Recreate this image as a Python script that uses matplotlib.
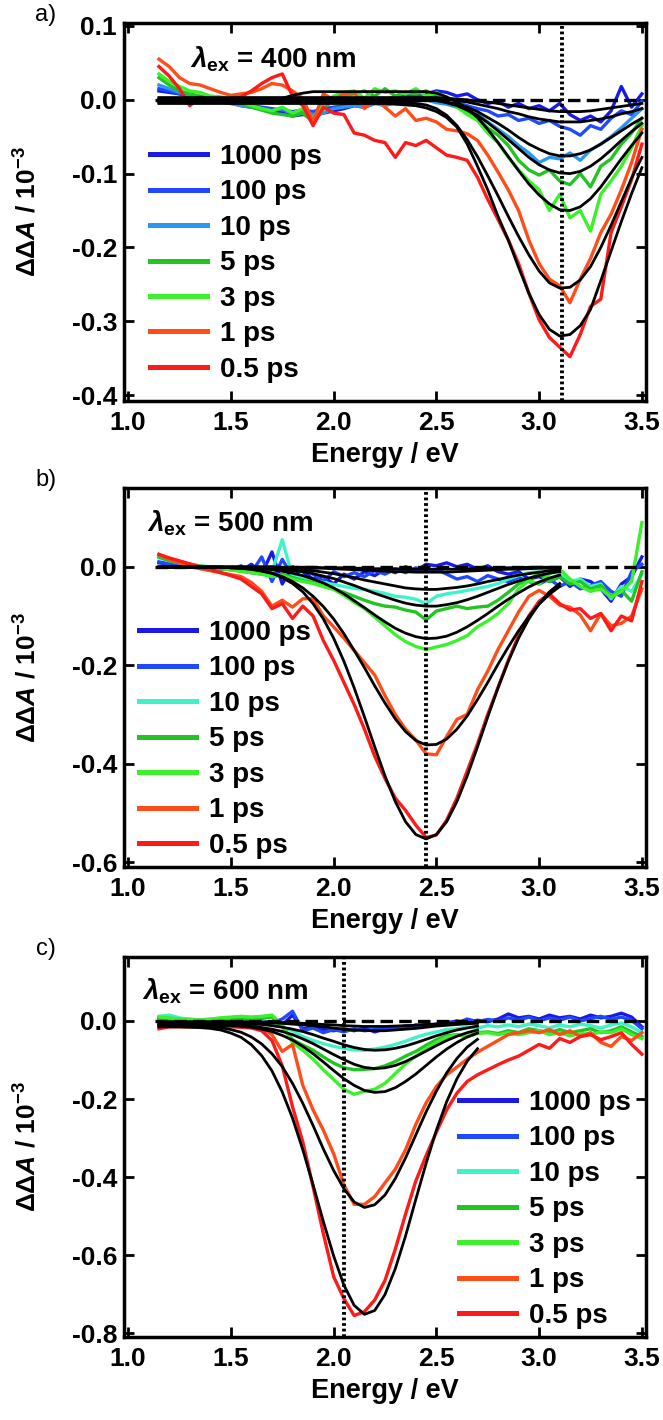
import matplotlib
matplotlib.use("Agg")
import matplotlib.pyplot as plt
import matplotlib.ticker as ticker

plt.rcParams["font.family"] = ["Liberation Sans", "DejaVu Sans"]
plt.rcParams["font.weight"] = "bold"
plt.rcParams["axes.unicode_minus"] = False
plt.rcParams["mathtext.fontset"] = "custom"
plt.rcParams["mathtext.rm"] = "Liberation Sans:bold"
plt.rcParams["mathtext.it"] = "Liberation Sans:italic:bold"
plt.rcParams["mathtext.bf"] = "Liberation Sans:bold"
plt.rcParams["lines.scale_dashes"] = False

# ── Data (ΔΔA in 10^-3) ───────────────────────────────────────────────────────
energy = [1.15, 1.20, 1.25, 1.30, 1.35, 1.40, 1.45, 1.50,
          1.55, 1.60, 1.65, 1.70, 1.75, 1.80, 1.85, 1.90,
          1.95, 2.00, 2.05, 2.10, 2.15, 2.20, 2.25, 2.30,
          2.35, 2.40, 2.45, 2.50, 2.55, 2.60, 2.65, 2.70,
          2.75, 2.80, 2.85, 2.90, 2.95, 3.00, 3.05, 3.10,
          3.15, 3.20, 3.25, 3.30, 3.35, 3.40, 3.45, 3.50]

delays = ["1000 ps", "100 ps", "10 ps", "5 ps", "3 ps", "1 ps", "0.5 ps"]
exc_nm = [400, 500, 600]
exc_ev = [3.11, 2.45, 2.05]

# panel a) 400 nm excitation
a_1000ps = [0.012, 0.010, 0.008, 0.005, 0.003, 0.000, -0.002, -0.004,
            -0.008, -0.010, -0.012, -0.015, -0.018, -0.022, -0.020, -0.022,
            -0.018, -0.015, -0.012, -0.008, -0.010, -0.005, -0.004, 0.000,
            0.002, 0.005, 0.008, 0.012, 0.010, 0.005, 0.008, 0.000,
            -0.005, -0.002, -0.010, -0.005, -0.012, -0.008, -0.015, -0.005,
            -0.020, -0.028, -0.022, -0.030, -0.015, 0.018, -0.010, 0.008]
a_100ps = [0.015, 0.012, 0.008, 0.004, 0.002, 0.000, -0.003, -0.005,
           -0.006, -0.008, -0.010, -0.012, -0.014, -0.016, -0.014, -0.016,
           -0.012, -0.010, -0.008, -0.006, -0.005, -0.003, 0.000, 0.004,
           0.006, 0.008, 0.004, 0.008, 0.002, -0.004, -0.008, -0.012,
           -0.015, -0.022, -0.020, -0.028, -0.025, -0.032, -0.028, -0.036,
           -0.040, -0.048, -0.035, -0.040, -0.025, -0.015, -0.020, -0.002]
a_10ps = [0.020, 0.015, 0.010, 0.005, 0.002, 0.000, -0.003, -0.005,
          -0.008, -0.010, -0.012, -0.015, -0.012, -0.018, -0.015, -0.020,
          -0.018, -0.012, -0.010, -0.008, -0.010, -0.005, -0.008, -0.004,
          -0.006, -0.002, 0.000, -0.004, -0.006, -0.010, -0.015, -0.020,
          -0.030, -0.040, -0.050, -0.062, -0.072, -0.085, -0.078, -0.080,
          -0.072, -0.082, -0.068, -0.060, -0.050, -0.038, -0.025, -0.012]
a_5ps = [0.030, 0.020, 0.012, 0.008, 0.005, 0.004, 0.002, -0.002,
         -0.005, -0.010, -0.014, -0.018, -0.020, -0.022, -0.018, -0.030,
         -0.012, 0.000, 0.005, 0.008, 0.012, 0.005, 0.015, 0.005,
         0.010, 0.008, 0.012, 0.005, 0.000, -0.008, -0.015, -0.025,
         -0.038, -0.048, -0.062, -0.082, -0.095, -0.102, -0.095, -0.110,
         -0.115, -0.100, -0.118, -0.090, -0.080, -0.060, -0.045, -0.025]
a_3ps = [0.035, 0.025, 0.018, 0.012, 0.010, 0.005, 0.004, 0.000,
         -0.003, -0.008, -0.012, -0.015, -0.010, -0.018, -0.012, -0.025,
         -0.005, 0.005, 0.010, 0.012, 0.002, 0.015, 0.010, 0.012,
         0.008, 0.015, 0.005, 0.010, 0.002, -0.010, -0.020, -0.028,
         -0.045, -0.058, -0.078, -0.095, -0.110, -0.122, -0.150, -0.128,
         -0.160, -0.150, -0.178, -0.128, -0.110, -0.090, -0.065, -0.035]
a_1ps = [0.055, 0.045, 0.030, 0.022, 0.020, 0.015, 0.010, 0.006,
         0.008, 0.010, 0.015, 0.022, 0.020, 0.012, 0.002, -0.030,
         0.008, 0.000, 0.008, 0.010, -0.012, 0.002, -0.010, -0.022,
         -0.012, -0.028, -0.025, -0.030, -0.040, -0.042, -0.046, -0.055,
         -0.075, -0.098, -0.122, -0.150, -0.190, -0.222, -0.243, -0.252,
         -0.275, -0.243, -0.215, -0.180, -0.155, -0.122, -0.085, -0.040]
a_05ps = [0.045, 0.032, 0.015, -0.008, 0.004, -0.002, 0.002, 0.000,
          0.004, 0.012, 0.022, 0.030, 0.035, 0.005, -0.008, -0.035,
          -0.010, -0.018, -0.020, -0.045, -0.048, -0.055, -0.058, -0.078,
          -0.058, -0.062, -0.055, -0.065, -0.075, -0.078, -0.082, -0.105,
          -0.135, -0.162, -0.190, -0.222, -0.262, -0.298, -0.322, -0.335,
          -0.348, -0.318, -0.280, -0.270, -0.180, -0.145, -0.108, -0.060]

a_fit_1000ps = [0.003] * 28 + [0.002, 0.001, 0.000, -0.002, -0.003, -0.005, -0.007, -0.009,
                               -0.011, -0.013, -0.015, -0.016, -0.016, -0.016, -0.015, -0.013,
                               -0.011, -0.009, -0.007, -0.005]
a_fit_100ps = [0.002] * 28 + [0.001, -0.001, -0.003, -0.006, -0.009, -0.012, -0.016, -0.019,
                              -0.023, -0.026, -0.028, -0.030, -0.030, -0.030, -0.028, -0.026,
                              -0.023, -0.019, -0.016, -0.012]
a_fit_10ps = [0.000] * 28 + [-0.003, -0.006, -0.010, -0.016, -0.024, -0.032, -0.041, -0.051,
                             -0.060, -0.067, -0.073, -0.076, -0.076, -0.073, -0.068, -0.060,
                             -0.051, -0.042, -0.033, -0.025]
a_fit_5ps = [-0.001] * 28 + [-0.004, -0.008, -0.014, -0.021, -0.031, -0.042, -0.054, -0.066,
                             -0.078, -0.088, -0.095, -0.099, -0.100, -0.097, -0.090, -0.080,
                             -0.068, -0.055, -0.043, -0.032]
a_fit_3ps = ([-0.002] * 12 + [0.002, 0.006, 0.009] + [0.011] * 12 + [0.009]
             + [0.004, -0.003, -0.012, -0.024, -0.040, -0.058, -0.077, -0.096,
                -0.114, -0.129, -0.141, -0.149, -0.150, -0.145, -0.134, -0.118,
                -0.099, -0.080, -0.062, -0.045])
a_fit_1ps = ([-0.004] * 25 + [-0.005, -0.007, -0.012]
             + [-0.021, -0.035, -0.054, -0.077, -0.103, -0.130, -0.158, -0.185,
                -0.210, -0.232, -0.248, -0.255, -0.254, -0.244, -0.226, -0.200,
                -0.170, -0.138, -0.106, -0.078])
a_fit_05ps = ([-0.005] * 23 + [-0.006, -0.007, -0.008, -0.011, -0.016]
              + [-0.024, -0.037, -0.060, -0.090, -0.122, -0.158, -0.190, -0.227,
                 -0.262, -0.291, -0.311, -0.320, -0.318, -0.306, -0.284, -0.245,
                 -0.205, -0.165, -0.127, -0.092])

# panel b) 500 nm excitation
b_1000ps = [0.008, 0.005, 0.004, 0.002, 0.000, -0.002, -0.005, -0.004,
            -0.008, 0.005, -0.015, 0.030, -0.035, 0.000, -0.010, -0.025,
            -0.020, -0.035, -0.015, -0.025, -0.010, -0.018, -0.005, -0.012,
            0.000, -0.008, 0.005, 0.002, 0.008, 0.000, 0.005, -0.005,
            0.002, -0.010, -0.015, -0.010, -0.025, -0.020, -0.030, -0.020,
            -0.040, -0.025, -0.030, -0.045, -0.070, -0.035, -0.020, 0.020]
b_100ps = [0.010, 0.006, 0.003, 0.001, -0.002, -0.004, -0.003, -0.006,
           0.002, -0.012, 0.020, -0.030, 0.015, -0.020, -0.005, -0.015,
           -0.030, -0.010, -0.020, -0.012, -0.020, -0.008, -0.015, -0.005,
           -0.012, -0.002, -0.010, -0.005, -0.015, -0.025, -0.020, -0.030,
           -0.018, -0.025, -0.030, -0.022, -0.030, -0.035, -0.025, -0.040,
           -0.030, -0.045, -0.038, -0.030, -0.050, -0.060, -0.010, 0.005]
b_10ps = [0.018, 0.012, 0.008, 0.004, 0.002, 0.000, -0.003, -0.005,
          -0.008, -0.010, -0.012, -0.010, 0.055, -0.020, -0.022, -0.027,
          -0.032, -0.036, -0.040, -0.044, -0.046, -0.050, -0.054, -0.060,
          -0.062, -0.066, -0.075, -0.060, -0.055, -0.052, -0.048, -0.044,
          -0.040, -0.034, -0.025, -0.018, -0.012, -0.010, -0.025, -0.015,
          -0.030, -0.025, -0.040, -0.035, -0.065, -0.040, -0.050, -0.015]
b_5ps = [0.020, 0.012, 0.008, 0.004, 0.000, -0.002, -0.004, -0.006,
         -0.008, -0.012, -0.015, -0.018, -0.015, -0.022, -0.028, -0.032,
         -0.040, -0.045, -0.052, -0.060, -0.068, -0.075, -0.080, -0.082,
         -0.088, -0.092, -0.108, -0.090, -0.085, -0.080, -0.085, -0.082,
         -0.080, -0.068, -0.052, -0.035, -0.025, -0.015, -0.030, -0.020,
         -0.035, -0.030, -0.045, -0.038, -0.060, -0.048, -0.070, -0.010]
b_3ps = [0.025, 0.015, 0.010, 0.005, 0.002, -0.002, -0.004, -0.006,
         -0.010, -0.012, -0.015, -0.020, -0.018, -0.025, -0.030, -0.034,
         -0.040, -0.046, -0.058, -0.072, -0.085, -0.102, -0.120, -0.138,
         -0.152, -0.162, -0.168, -0.163, -0.158, -0.150, -0.140, -0.122,
         -0.110, -0.095, -0.075, -0.045, -0.028, -0.035, -0.015, -0.005,
         -0.025, -0.040, -0.050, -0.045, -0.062, -0.050, -0.030, 0.090]
b_1ps = [0.025, 0.015, 0.008, 0.002, -0.004, -0.008, -0.012, -0.016,
         -0.020, -0.032, -0.050, -0.080, -0.068, -0.082, -0.065, -0.065,
         -0.100, -0.122, -0.145, -0.170, -0.195, -0.220, -0.262, -0.300,
         -0.330, -0.352, -0.380, -0.382, -0.345, -0.310, -0.300, -0.250,
         -0.212, -0.168, -0.130, -0.092, -0.060, -0.048, -0.060, -0.078,
         -0.082, -0.098, -0.130, -0.095, -0.120, -0.115, -0.100, -0.045]
b_05ps = [0.025, 0.018, 0.012, 0.006, 0.000, -0.006, -0.012, -0.018,
          -0.025, -0.040, -0.055, -0.085, -0.075, -0.105, -0.080, -0.100,
          -0.150, -0.190, -0.235, -0.280, -0.330, -0.385, -0.430, -0.470,
          -0.495, -0.525, -0.550, -0.545, -0.515, -0.470, -0.415, -0.360,
          -0.300, -0.245, -0.190, -0.140, -0.100, -0.070, -0.055, -0.075,
          -0.088, -0.085, -0.105, -0.095, -0.130, -0.100, -0.110, -0.030]

# fits in b) run from 1.15 to 3.10 eV
b_fit_1000ps = [0.000] * 12 + [-0.001, -0.001, -0.001, -0.001, -0.002, -0.002, -0.002, -0.003,
                               -0.003, -0.004, -0.004, -0.004, -0.005, -0.005, -0.005, -0.005,
                               -0.005, -0.005, -0.004, -0.004, -0.003, -0.003, -0.002, -0.002,
                               -0.001, -0.001, -0.001, -0.001]
b_fit_100ps = [-0.001] * 12 + [-0.002, -0.002, -0.002, -0.003, -0.003, -0.004, -0.005, -0.006,
                               -0.007, -0.008, -0.009, -0.010, -0.010, -0.011, -0.011, -0.011,
                               -0.011, -0.010, -0.009, -0.008, -0.007, -0.006, -0.005, -0.005,
                               -0.004, -0.003, -0.003, -0.002]
b_fit_10ps = [-0.001] * 9 + [-0.002, -0.002, -0.003, -0.004, -0.005, -0.006, -0.008, -0.011,
                             -0.014, -0.018, -0.022, -0.027, -0.031, -0.035, -0.039, -0.043,
                             -0.045, -0.046, -0.046, -0.044, -0.042, -0.039, -0.035, -0.030,
                             -0.026, -0.021, -0.017, -0.014, -0.011, -0.008, -0.006]
b_fit_5ps = [-0.001] * 8 + [-0.002, -0.002, -0.003, -0.004, -0.005, -0.008, -0.010, -0.014,
                            -0.019, -0.024, -0.031, -0.038, -0.046, -0.054, -0.061, -0.068,
                            -0.074, -0.078, -0.080, -0.080, -0.077, -0.073, -0.067, -0.060,
                            -0.052, -0.044, -0.036, -0.029, -0.023, -0.018, -0.013, -0.010]
b_fit_3ps = [-0.001] * 7 + [-0.002, -0.002, -0.003, -0.004, -0.006, -0.009, -0.013, -0.018,
                            -0.025, -0.033, -0.043, -0.055, -0.069, -0.083, -0.098, -0.112,
                            -0.125, -0.135, -0.142, -0.146, -0.145, -0.141, -0.133, -0.122,
                            -0.109, -0.095, -0.080, -0.066, -0.053, -0.041, -0.031, -0.023,
                            -0.017]
b_fit_1ps = [-0.001] * 7 + [-0.002, -0.003, -0.005, -0.009, -0.013, -0.020, -0.030, -0.043,
                            -0.060, -0.081, -0.106, -0.136, -0.170, -0.205, -0.242, -0.277,
                            -0.309, -0.335, -0.353, -0.362, -0.361, -0.350, -0.330, -0.303,
                            -0.270, -0.235, -0.198, -0.163, -0.130, -0.101, -0.076, -0.056,
                            -0.040]
b_fit_05ps = [-0.001] * 7 + [-0.002, -0.003, -0.005, -0.008, -0.013, -0.022, -0.034, -0.051,
                             -0.075, -0.106, -0.145, -0.192, -0.246, -0.305, -0.366, -0.425,
                             -0.477, -0.518, -0.544, -0.553, -0.544, -0.518, -0.477, -0.425,
                             -0.366, -0.305, -0.246, -0.192, -0.145, -0.106, -0.075, -0.051,
                             -0.034]

# panel c) 600 nm excitation
c_1000ps = [0.008, 0.006, 0.005, 0.004, 0.003, 0.002, 0.003, 0.002,
            0.000, 0.002, 0.000, -0.003, -0.010, 0.015, -0.020, -0.015,
            -0.022, -0.025, -0.020, -0.025, -0.018, -0.028, -0.020, -0.015,
            -0.018, -0.010, -0.012, -0.008, -0.005, 0.000, -0.005, 0.002,
            -0.002, 0.005, 0.018, 0.008, 0.012, 0.005, 0.015, 0.008,
            0.012, 0.005, 0.015, 0.008, 0.012, 0.020, 0.010, -0.015]
c_100ps = [0.005, 0.004, 0.002, 0.002, 0.000, 0.001, 0.000, -0.002,
           -0.001, -0.003, -0.002, -0.005, 0.005, 0.025, -0.025, -0.018,
           -0.030, -0.022, -0.028, -0.020, -0.025, -0.022, -0.018, -0.020,
           -0.012, -0.015, -0.008, -0.010, -0.002, -0.005, 0.005, -0.002,
           0.004, 0.000, 0.008, 0.002, 0.010, 0.000, 0.008, 0.002,
           0.010, 0.000, 0.006, 0.012, 0.004, 0.010, 0.002, -0.020]
c_10ps = [0.012, 0.015, 0.008, 0.004, 0.002, 0.000, 0.002, 0.000,
          -0.002, 0.000, -0.002, -0.005, -0.015, -0.025, -0.040, -0.050,
          -0.058, -0.065, -0.070, -0.074, -0.075, -0.072, -0.067, -0.060,
          -0.052, -0.042, -0.034, -0.028, -0.022, -0.020, -0.015, -0.018,
          -0.012, -0.015, -0.010, -0.015, -0.008, -0.012, -0.018, -0.010,
          -0.015, -0.008, -0.012, -0.018, -0.010, -0.005, -0.015, -0.030]
c_5ps = [0.005, 0.004, 0.002, 0.000, 0.002, 0.004, 0.005, 0.006,
         0.008, 0.005, 0.008, 0.010, -0.015, -0.048, -0.062, -0.075,
         -0.092, -0.108, -0.120, -0.125, -0.124, -0.122, -0.115, -0.104,
         -0.090, -0.078, -0.062, -0.048, -0.038, -0.035, -0.040, -0.030,
         -0.028, -0.032, -0.025, -0.030, -0.020, -0.025, -0.030, -0.022,
         -0.030, -0.025, -0.020, -0.030, -0.025, -0.015, -0.028, -0.040]
c_3ps = [0.010, 0.008, 0.005, 0.003, 0.003, 0.005, 0.008, 0.010,
         0.012, 0.010, 0.012, 0.015, -0.010, -0.055, -0.075, -0.098,
         -0.125, -0.150, -0.175, -0.188, -0.180, -0.175, -0.160, -0.135,
         -0.110, -0.090, -0.072, -0.055, -0.042, -0.035, -0.040, -0.032,
         -0.030, -0.035, -0.030, -0.035, -0.030, -0.025, -0.035, -0.030,
         -0.038, -0.032, -0.035, -0.028, -0.030, -0.020, -0.035, -0.045]
c_1ps = [-0.012, -0.012, -0.010, -0.010, -0.010, -0.008, -0.010, -0.010,
         -0.010, -0.012, -0.018, -0.035, -0.078, -0.060, -0.165, -0.228,
         -0.280, -0.340, -0.420, -0.470, -0.470, -0.450, -0.415, -0.380,
         -0.330, -0.265, -0.210, -0.168, -0.138, -0.118, -0.098, -0.080,
         -0.065, -0.050, -0.035, -0.030, -0.025, -0.030, -0.022, -0.035,
         -0.025, -0.040, -0.030, -0.055, -0.065, -0.040, -0.050, -0.030]
c_05ps = [-0.020, -0.015, -0.015, -0.015, -0.015, -0.014, -0.015, -0.015,
          -0.016, -0.018, -0.025, -0.050, -0.115, -0.220, -0.310, -0.425,
          -0.545, -0.655, -0.712, -0.755, -0.745, -0.715, -0.665, -0.585,
          -0.495, -0.410, -0.345, -0.285, -0.228, -0.185, -0.155, -0.138,
          -0.125, -0.112, -0.100, -0.090, -0.075, -0.060, -0.070, -0.045,
          -0.055, -0.040, -0.035, -0.048, -0.040, -0.030, -0.060, -0.085]

# fits in c) run from 1.15 to 2.70 eV
c_fit_1000ps = [-0.002] * 10 + [-0.003, -0.003, -0.004, -0.005, -0.006, -0.007, -0.009, -0.010,
                                -0.012, -0.013, -0.014, -0.014, -0.014, -0.013, -0.012, -0.011,
                                -0.009, -0.008, -0.006, -0.005, -0.004, -0.003]
c_fit_100ps = [-0.003] * 9 + [-0.004, -0.004, -0.005, -0.006, -0.008, -0.010, -0.012, -0.015,
                              -0.018, -0.021, -0.023, -0.024, -0.025, -0.025, -0.023, -0.021,
                              -0.019, -0.016, -0.013, -0.011, -0.009, -0.007, -0.006]
c_fit_10ps = [-0.005] * 6 + [-0.006, -0.006, -0.006, -0.008, -0.009, -0.012, -0.016, -0.021,
                             -0.027, -0.035, -0.044, -0.052, -0.061, -0.068, -0.073, -0.075,
                             -0.074, -0.070, -0.064, -0.056, -0.047, -0.038, -0.030, -0.023,
                             -0.018, -0.013]
c_fit_5ps = [-0.010] * 6 + [-0.011, -0.011, -0.012, -0.014, -0.017, -0.021, -0.027, -0.035,
                            -0.046, -0.058, -0.072, -0.086, -0.099, -0.111, -0.119, -0.122,
                            -0.120, -0.114, -0.104, -0.091, -0.077, -0.063, -0.050, -0.039,
                            -0.030, -0.023]
c_fit_3ps = [-0.010] * 6 + [-0.011, -0.012, -0.014, -0.016, -0.021, -0.027, -0.037, -0.049,
                            -0.065, -0.084, -0.105, -0.127, -0.148, -0.165, -0.178, -0.183,
                            -0.181, -0.171, -0.155, -0.136, -0.114, -0.092, -0.072, -0.055,
                            -0.041, -0.031]
c_fit_1ps = [-0.012, -0.012, -0.012, -0.013, -0.013, -0.015, -0.017, -0.022,
             -0.029, -0.041, -0.059, -0.084, -0.117, -0.160, -0.211, -0.268,
             -0.328, -0.383, -0.430, -0.464, -0.478, -0.471, -0.446, -0.404,
             -0.351, -0.292, -0.233, -0.180, -0.133, -0.096, -0.067, -0.047]
c_fit_05ps = [-0.015, -0.015, -0.015, -0.016, -0.017, -0.019, -0.023, -0.031,
              -0.042, -0.061, -0.089, -0.128, -0.182, -0.249, -0.330, -0.420,
              -0.514, -0.602, -0.677, -0.729, -0.752, -0.742, -0.701, -0.635,
              -0.551, -0.457, -0.365, -0.280, -0.207, -0.148, -0.103, -0.071]

# ── Styles / layout (pixel positions measured on a 663 x 1420 canvas) ──────────
W, H = 663, 1420
AX_LEFT, AX_RIGHT = 124, 646

COLORS_A = ["#1a1ae6", "#1f48ff", "#2a98f0", "#22c422", "#3cf02c", "#ff4d1a", "#ff1a1a"]
COLORS_BC = ["#1a1ae6", "#1f48ff", "#40f2c8", "#22c422", "#3cf02c", "#ff4d1a", "#ff1a1a"]

panels = [
    dict(tag="a)", spectra=[a_1000ps, a_100ps, a_10ps, a_5ps, a_3ps, a_1ps, a_05ps],
         fits=[a_fit_1000ps, a_fit_100ps, a_fit_10ps, a_fit_5ps, a_fit_3ps, a_fit_1ps, a_fit_05ps],
         colors=COLORS_A, top=23, bottom=401, ylim=(-0.408, 0.104),
         yticks=[-0.4, -0.3, -0.2, -0.1, 0.0, 0.1],
         legend_xy=(150, 144), lam_xy=(190, 68)),
    dict(tag="b)", spectra=[b_1000ps, b_100ps, b_10ps, b_5ps, b_3ps, b_1ps, b_05ps],
         fits=[b_fit_1000ps, b_fit_100ps, b_fit_10ps, b_fit_5ps, b_fit_3ps, b_fit_1ps, b_fit_05ps],
         colors=COLORS_BC, top=488, bottom=867, ylim=(-0.61, 0.16),
         yticks=[-0.6, -0.4, -0.2, 0.0],
         legend_xy=(139, 620), lam_xy=(147, 532)),
    dict(tag="c)", spectra=[c_1000ps, c_100ps, c_10ps, c_5ps, c_3ps, c_1ps, c_05ps],
         fits=[c_fit_1000ps, c_fit_100ps, c_fit_10ps, c_fit_5ps, c_fit_3ps, c_fit_1ps, c_fit_05ps],
         colors=COLORS_BC, top=957, bottom=1337, ylim=(-0.81, 0.164),
         yticks=[-0.8, -0.6, -0.4, -0.2, 0.0],
         legend_xy=(459, 1090), lam_xy=(142, 1000)),
]

fig = plt.figure(figsize=(W / 100, H / 100), dpi=100)

for i, p in enumerate(panels):
    top, bottom = p["top"], p["bottom"]
    ax = fig.add_axes([AX_LEFT / W, 1 - bottom / H,
                       (AX_RIGHT - AX_LEFT) / W, (bottom - top) / H])

    def to_ax(px, py):
        return ((px - AX_LEFT) / (AX_RIGHT - AX_LEFT), (bottom - py) / (bottom - top))

    handles = []
    for spec, col, lab in zip(p["spectra"], p["colors"], delays):
        h, = ax.plot(energy, spec, color=col, lw=2.4, label=lab, zorder=2)
        handles.append(h)
    for fit in p["fits"]:
        ax.plot(energy[:len(fit)], fit, color="black", lw=2.0, zorder=3)

    ax.hlines(0, energy[0] - 0.02, energy[-1], colors="black", lw=2.4,
              linestyles=(0, (9, 4.5)), zorder=4)
    ax.axvline(exc_ev[i], color="black", lw=2.8, linestyle=(0, (2.0, 2.0)), zorder=4)

    ax.set_xlim(0.98, 3.52)
    ax.set_ylim(*p["ylim"])
    ax.set_xticks([1.0, 1.5, 2.0, 2.5, 3.0, 3.5])
    ax.set_yticks(p["yticks"])
    ax.xaxis.set_major_formatter(ticker.FormatStrFormatter("%.1f"))
    ax.yaxis.set_major_formatter(ticker.FormatStrFormatter("%.1f"))
    ax.tick_params(direction="in", top=True, right=True, length=7.5, width=2.0,
                   labelsize=19)
    ax.tick_params(axis="x", pad=7)
    ax.tick_params(axis="y", pad=5)
    for s in ax.spines.values():
        s.set_linewidth(2.5)
    ax.set_xlabel("Energy / eV", fontsize=19.5, fontweight="bold", labelpad=5)

    leg = ax.legend(handles=handles, loc="upper left", bbox_to_anchor=to_ax(*p["legend_xy"]),
                    frameon=False, fontsize=20, handlelength=2.05, handletextpad=0.47,
                    labelspacing=0.34, borderpad=0, borderaxespad=0)
    for ln in leg.get_lines():
        ln.set_linewidth(3.6)

    lx, ly = to_ax(*p["lam_xy"])
    ax.text(lx, ly, r"$\lambda_{\mathrm{ex}}$" + f" = {exc_nm[i]} nm", transform=ax.transAxes,
            fontsize=20, fontweight="bold", ha="left", va="baseline", zorder=5)

    fig.text(46 / W, 1 - (top - 8) / H, p["tag"], fontsize=17, fontweight="normal",
             ha="center", va="center")
    fig.text(28 / W, 1 - (top + bottom) / 2 / H,
             r"$\mathrm{\Delta\Delta}\mathit{A}$ / 10$^{\mathrm{-3}}$",
             rotation=90, fontsize=19, fontweight="bold", ha="center", va="center")

fig.savefig("out.png", dpi=100)
